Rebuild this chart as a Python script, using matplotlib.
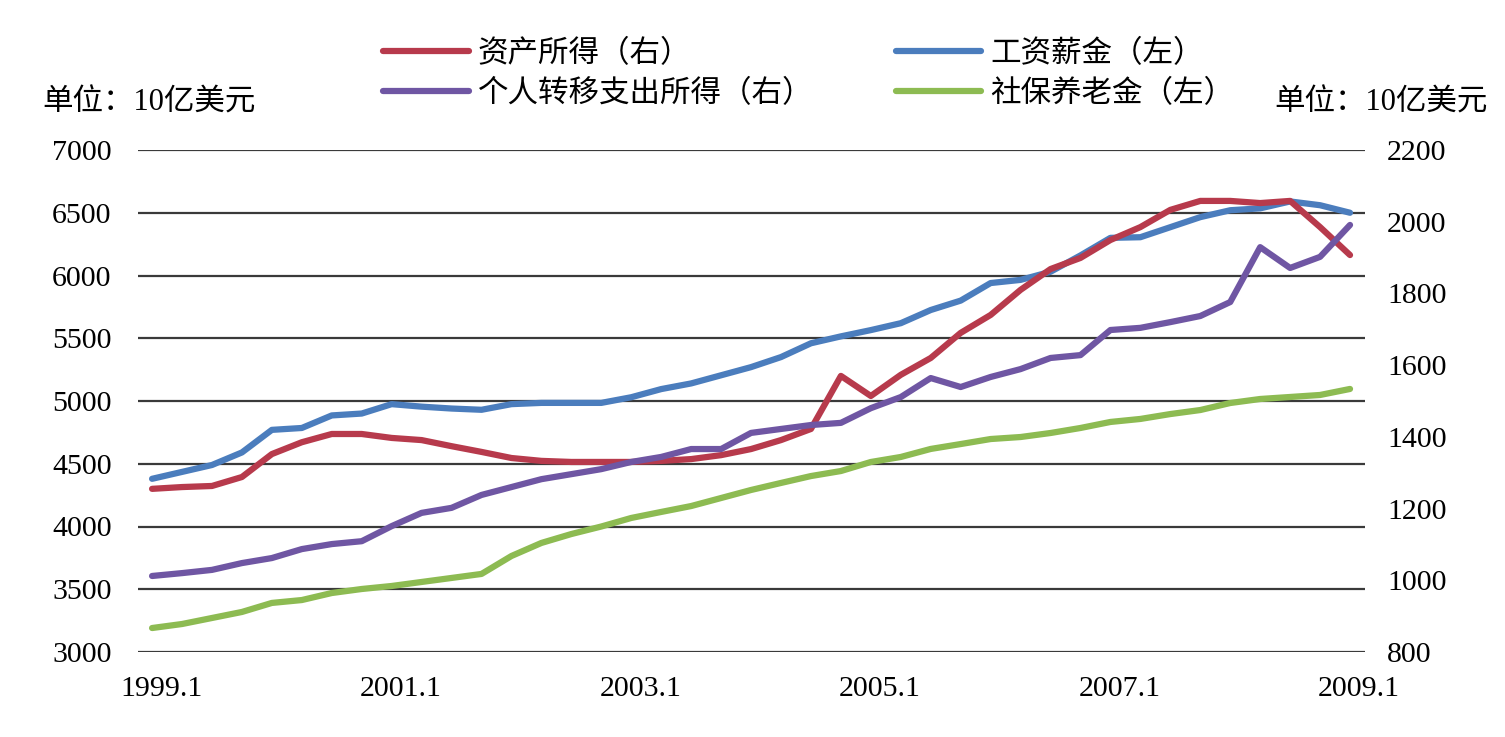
import matplotlib
matplotlib.use('Agg')
import matplotlib.pyplot as plt
from matplotlib.transforms import ScaledTranslation

plt.rcParams['font.family'] = ['Liberation Serif', 'Noto Sans CJK SC']

# quarterly, 1999.1 .. 2009.1
quarters = ['%d.%d' % (1999 + k // 4, k % 4 + 1) for k in range(41)]
tick_labels = ['1999.1', '2001.1', '2003.1', '2005.1', '2007.1', '2009.1']

# left axis (10亿美元)
wages = [4380, 4435, 4490, 4590, 4770, 4785, 4885, 4900, 4975, 4955, 4940,
         4930, 4975, 4985, 4985, 4985, 5030, 5095, 5140, 5205, 5270, 5350,
         5460, 5515, 5565, 5620, 5725, 5800, 5940, 5965, 6030, 6160, 6300,
         6305, 6385, 6465, 6520, 6535, 6590, 6560, 6500]
pension = [3191, 3223, 3271, 3319, 3391, 3414, 3470, 3502, 3526, 3558, 3590,
           3622, 3765, 3869, 3940, 4000, 4068, 4116, 4163, 4227, 4291, 4347,
           4402, 4442, 4514, 4554, 4618, 4657, 4697, 4713, 4745, 4785, 4833,
           4857, 4896, 4928, 4984, 5016, 5032, 5048, 5096]

# right axis (10亿美元)
asset_income = [1255, 1260, 1263, 1288, 1352, 1385, 1408, 1408, 1397, 1391,
                1374, 1358, 1341, 1333, 1330, 1330, 1330, 1333, 1338, 1349,
                1366, 1391, 1422, 1570, 1514, 1573, 1620, 1690, 1740, 1810,
                1868, 1899, 1949, 1985, 2033, 2058, 2058, 2052, 2058, 1985,
                1907]
transfer = [1012, 1020, 1029, 1048, 1062, 1087, 1101, 1109, 1151, 1188, 1202,
            1238, 1260, 1282, 1296, 1310, 1330, 1344, 1366, 1366, 1411, 1422,
            1433, 1439, 1480, 1511, 1564, 1539, 1567, 1589, 1620, 1628, 1698,
            1704, 1720, 1737, 1776, 1929, 1871, 1902, 1991]

c_red = '#B73A4C'
c_blue = '#4B7DBD'
c_purple = '#6F56A3'
c_green = '#8DBB52'

W, H = 1505, 737
fig = plt.figure(figsize=(W / 100, H / 100), dpi=100)
ax = fig.add_axes([138 / W, 1 - 652 / H, (1365 - 138) / W, (652 - 150) / H])
ax2 = ax.twinx()

x = list(range(len(quarters)))
l_blue, = ax.plot(x, wages, color=c_blue, lw=4.5, solid_capstyle='round')
l_green, = ax.plot(x, pension, color=c_green, lw=4.5, solid_capstyle='round')
l_red, = ax2.plot(x, asset_income, color=c_red, lw=4.5, solid_capstyle='round')
l_purple, = ax2.plot(x, transfer, color=c_purple, lw=4.5, solid_capstyle='round')

ax.set_xlim(-0.47, 40.5)
ax.set_ylim(3000, 7000)
ax.set_yticks(range(3000, 7001, 500))
ax2.set_ylim(800, 2200)
ax2.set_yticks(range(800, 2201, 200))

ticks = [quarters.index(t) for t in tick_labels]
ax.set_xticks(ticks)
ax.set_xticklabels(tick_labels)

ax.yaxis.grid(True, color='#3a3a3a', lw=1.6)
ax.set_axisbelow(True)
for a in (ax, ax2):
    for s in a.spines.values():
        s.set_visible(False)
ax.tick_params(axis='y', length=0, pad=19, labelsize=21.5)
ax.tick_params(axis='x', length=0, pad=17, labelsize=21.5)
ax2.tick_params(axis='y', length=0, pad=16, labelsize=21.5)

off = ScaledTranslation(9 / 100, 0, fig.dpi_scale_trans)
for lab in ax.get_xticklabels():
    lab.set_transform(lab.get_transform() + off)

fig.text(42 / W, 1 - 103 / H, '单位：10亿美元', fontsize=22, va='center', ha='left')
fig.text(1488 / W, 1 - 103 / H, '单位：10亿美元', fontsize=22, va='center', ha='right')

fig.legend([l_red, l_purple, l_blue, l_green],
           ['资产所得（右）', '个人转移支出所得（右）', '工资薪金（左）', '社保养老金（左）'],
           loc='upper left', bbox_to_anchor=(383 / W, 1 - 40 / H), ncol=2,
           frameon=False, borderpad=0, borderaxespad=0, handlelength=2.8,
           handletextpad=0.3, columnspacing=2.7, labelspacing=0.35, fontsize=22)

fig.savefig('out.png', dpi=100)
